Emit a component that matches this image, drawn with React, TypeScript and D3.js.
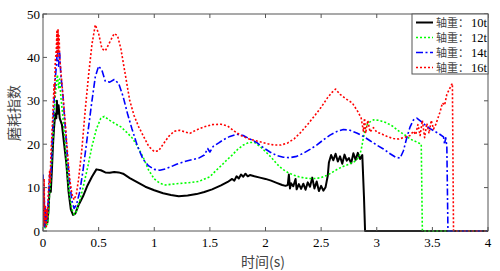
import React from "react";
import * as d3 from "d3";

const xTicks = [0, 0.5, 1, 1.5, 2, 2.5, 3, 3.5, 4];
const yTicks = [0, 10, 20, 30, 40, 50];
const legendPrefix = "轴重：";
const legendLoads = ["10t", "12t", "14t", "16t"];

const load10t: [number, number][] = [
  [0, 2], [0.01, 5], [0.02, 1], [0.03, 4], [0.04, 2], [0.05, 5], [0.06, 10], [0.07, 9], [0.08, 14], [0.09, 20],
  [0.1, 24], [0.11, 27], [0.12, 26], [0.125, 30], [0.13, 27], [0.14, 29], [0.15, 26], [0.17, 24.5], [0.19, 20], [0.21, 15.5],
  [0.23, 9], [0.25, 5], [0.27, 3.7], [0.29, 4], [0.32, 6], [0.36, 8], [0.4, 10.5], [0.44, 12.5], [0.48, 14.2], [0.52, 14],
  [0.56, 13.5], [0.6, 13.4], [0.64, 13.6], [0.68, 13.5], [0.72, 13.2], [0.78, 12.2], [0.85, 11.2], [0.92, 10.2], [1.0, 9.4],
  [1.08, 8.7], [1.15, 8.3], [1.22, 8.0], [1.3, 8.2], [1.38, 8.5], [1.45, 9.0], [1.52, 9.6], [1.6, 10.5], [1.66, 11.3],
  [1.7, 12.0], [1.72, 11.6], [1.74, 12.6], [1.76, 12.1], [1.78, 13.0], [1.8, 12.5], [1.82, 13.2], [1.84, 12.6], [1.86, 12.9],
  [1.9, 12.6], [1.95, 12.3], [2.0, 12.0], [2.05, 11.6], [2.1, 11.1], [2.15, 10.6], [2.18, 10.4],
  [2.2, 10.6], [2.21, 13], [2.22, 9.8], [2.23, 11], [2.25, 10.3], [2.27, 12], [2.28, 9.6], [2.3, 10.8], [2.32, 9.7],
  [2.34, 10.9], [2.36, 9.5], [2.38, 11.2], [2.4, 10.2], [2.42, 12.3], [2.44, 9.8], [2.46, 11.4], [2.48, 9.2], [2.5, 10.4],
  [2.52, 9.3], [2.54, 10.1], [2.56, 12.8], [2.57, 15.8], [2.59, 17.5], [2.61, 16.3], [2.63, 17.8], [2.65, 16.0], [2.67, 17.2],
  [2.69, 15.5], [2.71, 17.6], [2.73, 16.2], [2.75, 16.8], [2.77, 15.6], [2.79, 17.9], [2.81, 16.4], [2.83, 18.0], [2.85, 16.6],
  [2.87, 17.5], [2.885, 8], [2.895, 0], [4, 0],
];

const load12t: [number, number][] = [
  [0, 1], [0.01, 3], [0.02, 0.5], [0.03, 3], [0.04, 1.5], [0.05, 4], [0.06, 9], [0.07, 12], [0.08, 17], [0.09, 22],
  [0.1, 27], [0.11, 31], [0.12, 34], [0.13, 36], [0.14, 33], [0.15, 35], [0.16, 31], [0.18, 26], [0.2, 20], [0.22, 13],
  [0.24, 8], [0.26, 5], [0.28, 3.8], [0.3, 4.5], [0.33, 7], [0.36, 10], [0.4, 14.5], [0.44, 19.5], [0.48, 23.5], [0.52, 26],
  [0.55, 26.4], [0.6, 25.5], [0.65, 24.7], [0.7, 24], [0.75, 22.8], [0.8, 21.5], [0.85, 19.5], [0.9, 17], [0.95, 14],
  [1.0, 12], [1.05, 11], [1.1, 10.6], [1.2, 10.9], [1.3, 11.1], [1.4, 11.4], [1.5, 12.5], [1.55, 13.8], [1.6, 15],
  [1.65, 16.3], [1.7, 17.5], [1.75, 18.8], [1.8, 19.8], [1.85, 20.4], [1.9, 20.4], [1.95, 19.5], [2.0, 18.3], [2.05, 17],
  [2.1, 15.5], [2.15, 14.3], [2.2, 13.5], [2.25, 12.9], [2.3, 12.5], [2.35, 12.2], [2.4, 12.1], [2.45, 12.1], [2.5, 12.3],
  [2.55, 12.8], [2.6, 13.5], [2.65, 14.3], [2.7, 14.9], [2.75, 15.4], [2.8, 16.0], [2.84, 17], [2.86, 18.7], [2.88, 21.5],
  [2.9, 24], [2.93, 25], [2.97, 25.6], [3.02, 25.5], [3.08, 25.0], [3.14, 24.2], [3.2, 23.0], [3.26, 22.0], [3.3, 21.2],
  [3.36, 20.5], [3.4, 20.0], [3.41, 0], [4, 0],
];

const load14t: [number, number][] = [
  [0, 13], [0.005, 3], [0.01, 10], [0.015, 1], [0.02, 6], [0.03, 2], [0.04, 4], [0.05, 8], [0.06, 13], [0.07, 12],
  [0.08, 19], [0.09, 25], [0.1, 30], [0.11, 35], [0.12, 38], [0.13, 42], [0.14, 38], [0.15, 41], [0.16, 36], [0.18, 31],
  [0.2, 24], [0.22, 17], [0.24, 11], [0.26, 7], [0.28, 5.2], [0.3, 6], [0.33, 9], [0.36, 14], [0.4, 22], [0.44, 30],
  [0.47, 35.5], [0.5, 38], [0.53, 37], [0.56, 34.5], [0.6, 34.3], [0.64, 34.9], [0.68, 34], [0.72, 31], [0.76, 27],
  [0.8, 23.5], [0.85, 19.5], [0.9, 16.5], [0.95, 15], [1.0, 14.2], [1.05, 14], [1.1, 14.3], [1.15, 14.8], [1.2, 15.4],
  [1.3, 16.2], [1.4, 16.8], [1.45, 17.5], [1.48, 19], [1.5, 18.2], [1.53, 19.5], [1.58, 20.3], [1.62, 21], [1.68, 21.8],
  [1.74, 22.3], [1.8, 22], [1.86, 21.2], [1.92, 20.4], [1.98, 19.2], [2.04, 18.2], [2.1, 17.4], [2.16, 17], [2.22, 16.9],
  [2.28, 17.2], [2.34, 17.9], [2.4, 18.8], [2.46, 19.8], [2.52, 21], [2.58, 22.1], [2.64, 22.9], [2.7, 23.4], [2.76, 23.2],
  [2.82, 22.6], [2.88, 21.8], [2.94, 20.8], [3.0, 19.8], [3.06, 18.9], [3.12, 17.8], [3.17, 17], [3.21, 16.8], [3.24, 18.5],
  [3.27, 21.5], [3.3, 24], [3.33, 25.6], [3.36, 26], [3.4, 25.2], [3.44, 24.3], [3.48, 23.6], [3.52, 23], [3.56, 22.4],
  [3.6, 21.7], [3.61, 20], [3.62, 21.5], [3.63, 19.5], [3.64, 0], [4, 0],
];

const load16t: [number, number][] = [
  [0, 8], [0.005, 1], [0.01, 12], [0.015, 2], [0.02, 6], [0.03, 1], [0.035, 5], [0.04, 3], [0.05, 10], [0.06, 14],
  [0.065, 11], [0.07, 17], [0.08, 22], [0.09, 28], [0.1, 34], [0.105, 31], [0.11, 39], [0.12, 42], [0.125, 46], [0.13, 40],
  [0.135, 46.5], [0.14, 41], [0.145, 45], [0.15, 40], [0.16, 37], [0.18, 31], [0.2, 25], [0.22, 18], [0.24, 12], [0.26, 8.5],
  [0.28, 7.2], [0.3, 8.5], [0.32, 12], [0.35, 19], [0.38, 28], [0.41, 36], [0.44, 43], [0.47, 47.5], [0.5, 45.5], [0.53, 42],
  [0.56, 41.5], [0.6, 43.5], [0.64, 45.5], [0.67, 45], [0.7, 42], [0.74, 36], [0.78, 30], [0.82, 26.5], [0.86, 24], [0.9, 22],
  [0.95, 19.5], [1.0, 18.3], [1.04, 18.5], [1.08, 20], [1.13, 21.8], [1.18, 23], [1.23, 23.2], [1.28, 22.8], [1.32, 22.5],
  [1.38, 23.3], [1.45, 24], [1.52, 24.5], [1.6, 24.6], [1.66, 24.2], [1.72, 23], [1.78, 22], [1.84, 21.3], [1.9, 20.9],
  [1.96, 20.5], [2.02, 20.1], [2.08, 19.8], [2.14, 19.8], [2.2, 20.3], [2.26, 21.3], [2.32, 22.8], [2.38, 24.6], [2.44, 26.5],
  [2.5, 28.5], [2.56, 30.8], [2.6, 32], [2.63, 32.7], [2.67, 31.5], [2.72, 30.5], [2.78, 29.5], [2.83, 27.5], [2.86, 26],
  [2.88, 23], [2.89, 26], [2.9, 22.5], [2.92, 25.5], [2.94, 22.8], [2.97, 23.8], [3.0, 22.8], [3.05, 22.3], [3.1, 21.7],
  [3.15, 21.3], [3.2, 21.2], [3.25, 21.6], [3.3, 22], [3.33, 23], [3.35, 22.2], [3.37, 24.5], [3.39, 22], [3.41, 25.5],
  [3.43, 21.5], [3.45, 24.8], [3.47, 22.5], [3.49, 25.5], [3.51, 23.5], [3.53, 24.5], [3.55, 26], [3.57, 27.5], [3.59, 29.5],
  [3.61, 29], [3.63, 31.5], [3.65, 32.5], [3.67, 33.6], [3.68, 34], [3.69, 0], [4, 0],
];

const seriesData = [load10t, load12t, load14t, load16t];
const seriesColors = ["#000000", "#00ff00", "#0000ff", "#ff0000"];
const seriesDash = ["none", "2,2", "7,2.5,2,2.5", "2,2"];
const seriesWidth = [2, 1.6, 1.6, 1.6];

const W = 500, H = 271;
const L = 43, R = 488, T = 14, B = 231;

export default function App() {
  const x = d3.scaleLinear().domain([0, 4]).range([L, R]);
  const y = d3.scaleLinear().domain([0, 50]).range([B, T]);
  const line = d3.line<[number, number]>().x((d) => x(d[0])).y((d) => y(d[1]));
  const axisColor = "#555";
  const font = "'Liberation Serif', 'Times New Roman', serif";
  const cjk = "'Noto Sans CJK SC', sans-serif";
  return (
    <svg width={W} height={H} style={{ position: "absolute", left: 0, top: 0, background: "#fff" }}>
      <rect x={0} y={0} width={W} height={H} fill="#fff" />
      <defs>
        <clipPath id="plot">
          <rect x={L} y={T - 1} width={R - L} height={B - T + 2} />
        </clipPath>
      </defs>
      <g clipPath="url(#plot)">
        {seriesData.map((s, i) => (
          <path key={i} d={line(s) || ""} fill="none" stroke={seriesColors[i]} strokeWidth={seriesWidth[i]}
            strokeDasharray={seriesDash[i]} strokeLinejoin="round" />
        ))}
      </g>
      <rect x={L} y={T} width={R - L} height={B - T} fill="none" stroke={axisColor} strokeWidth={1} />
      {xTicks.map((t) => (
        <g key={"x" + t}>
          <line x1={x(t)} x2={x(t)} y1={B} y2={B - 4} stroke={axisColor} />
          <line x1={x(t)} x2={x(t)} y1={T} y2={T + 4} stroke={axisColor} />
          <text x={x(t)} y={247} textAnchor="middle" fontFamily={font} fontSize={13} fill="#000">{t}</text>
        </g>
      ))}
      {yTicks.map((t) => (
        <g key={"y" + t}>
          <line x1={L} x2={L + 4} y1={y(t)} y2={y(t)} stroke={axisColor} />
          <line x1={R} x2={R - 4} y1={y(t)} y2={y(t)} stroke={axisColor} />
          <text x={40} y={y(t) + 4.5} textAnchor="end" fontFamily={font} fontSize={13} fill="#000">{t}</text>
        </g>
      ))}
      <text x={263} y={267} textAnchor="middle" fontFamily={cjk} fontSize={14} fill="#444">时间(s)</text>
      <text transform={`translate(19,${113}) rotate(-90)`} textAnchor="middle" fontFamily={cjk} fontSize={14} fill="#444">磨耗指数</text>
      <rect x={412} y={T} width={R - 412} height={60} fill="#fff" stroke={axisColor} />
      {legendLoads.map((lab, i) => (
        <g key={lab}>
          <line x1={416} x2={433} y1={22.5 + i * 15} y2={22.5 + i * 15} stroke={seriesColors[i]} strokeWidth={seriesWidth[i]}
            strokeDasharray={seriesDash[i]} />
          <text x={436} y={26.5 + i * 15} fontFamily={cjk} fontSize={11} fill="#444">{legendPrefix}</text>
          <text x={471} y={27 + i * 15} fontFamily={font} fontSize={12.5} fill="#000">{lab}</text>
        </g>
      ))}
    </svg>
  );
}
